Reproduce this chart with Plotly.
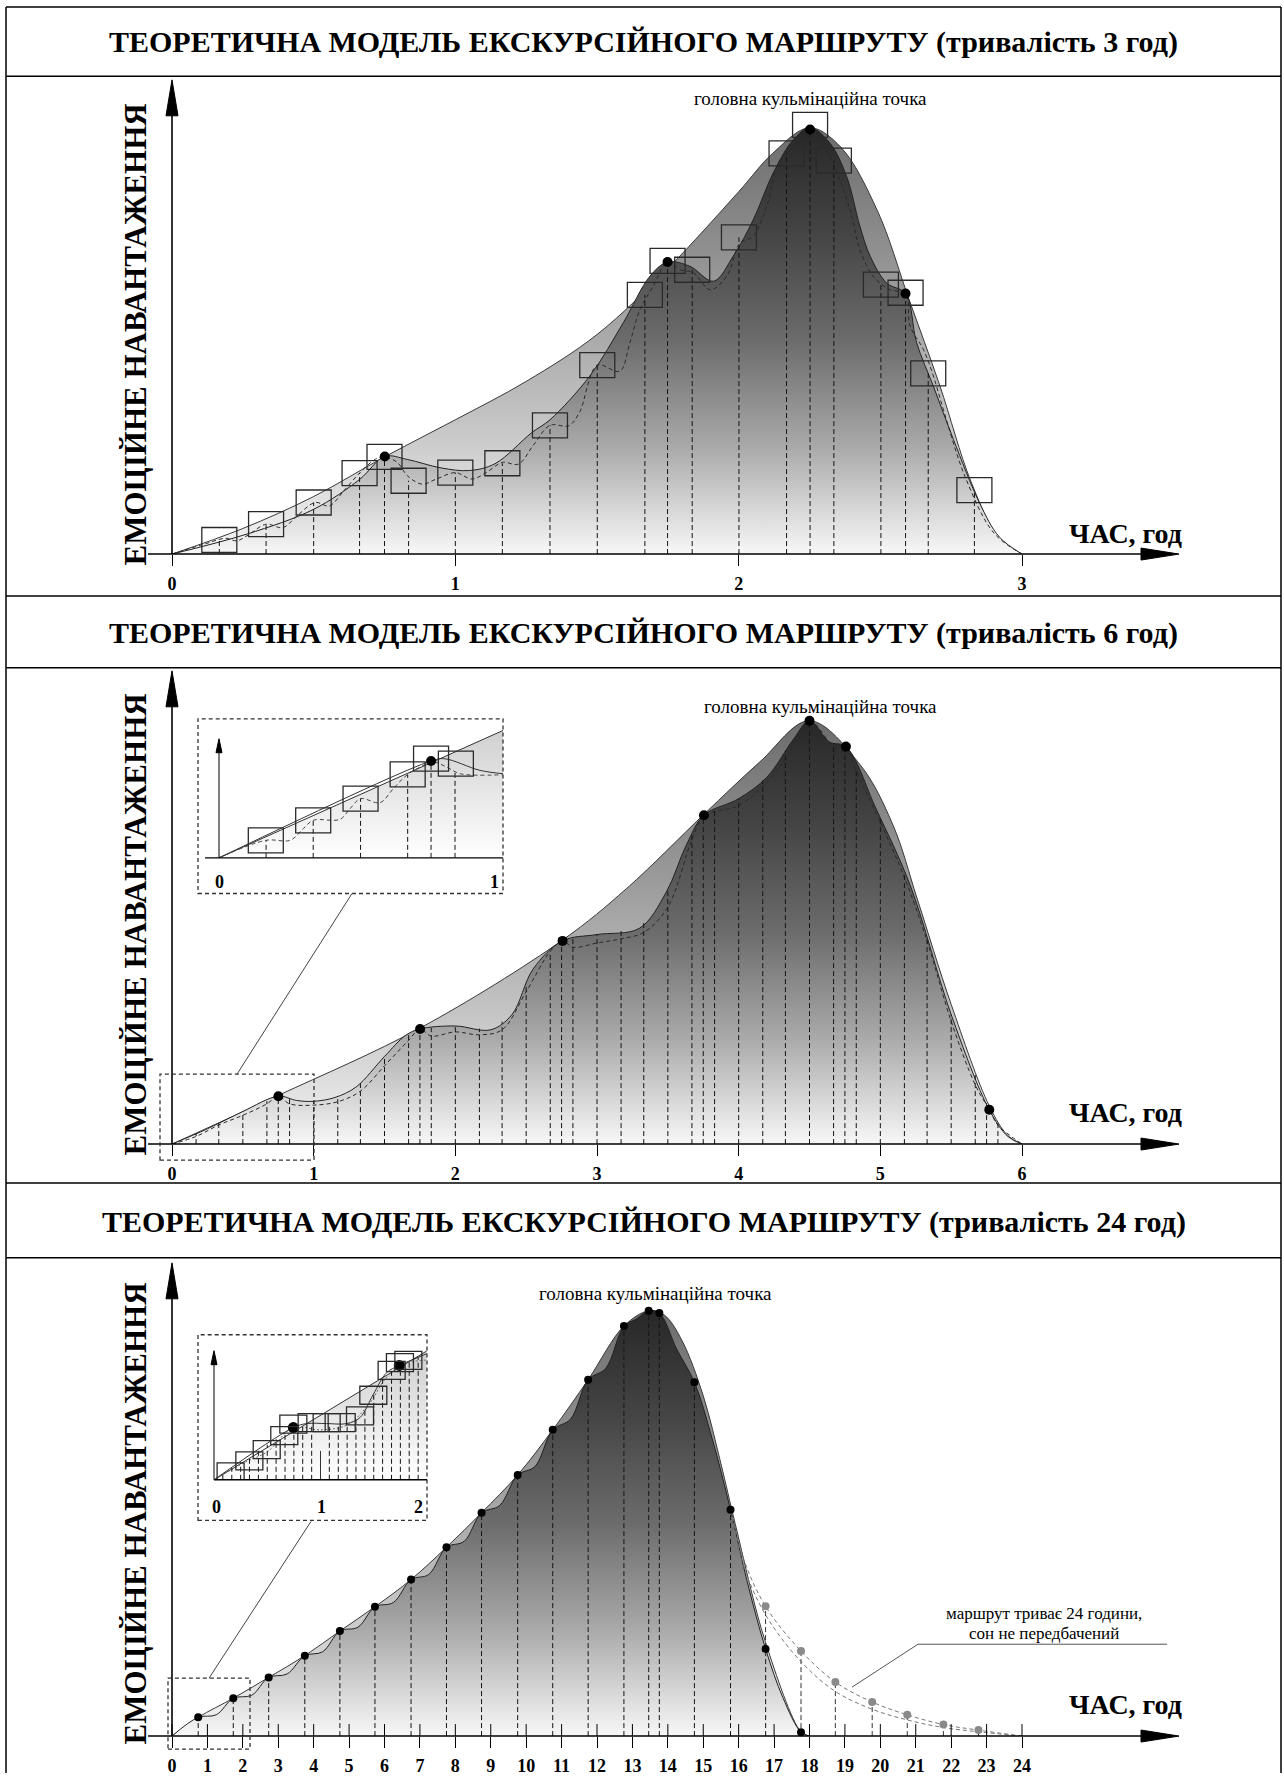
import numpy as np
import plotly.graph_objects as go

W, H = 1284, 1776
def X(px): return px / W
def Y(py): return 1 - py / H

# ---------------- DATA ----------------
# Panel 1 (3 hours)
p1_ticks = [0, 1, 2, 3]
p1_env_x = [0, 0.25, 0.5, 0.75, 1.0, 1.25, 1.5, 1.75, 2.0, 2.12, 2.25, 2.36, 2.49, 2.6, 2.71, 2.82, 2.92, 3.0]
p1_env_y = [0, 6.0, 13.5, 22.8, 31.5, 40.5, 51.5, 67.0, 85.0, 94.0, 100, 95.5, 80.5, 60.0, 39.5, 17.0, 3.5, 0]
p1_in_x = [0, 0.265, 0.5, 0.662, 0.751, 0.83, 0.95, 1.05, 1.14, 1.27, 1.334, 1.475, 1.593, 1.687, 1.749,
           1.828, 1.911, 1.981, 2.052, 2.122, 2.193, 2.252, 2.322, 2.381, 2.428, 2.464, 2.522, 2.589,
           2.628, 2.687, 2.758, 2.85, 2.92, 3.0]
p1_in_y = [0, 4.7, 10.5, 17.5, 22.9, 22.2, 20.2, 19.6, 21.2, 28.5, 31.5, 41.8, 54.3, 65.2, 68.5,
           67.5, 64.0, 69.9, 78.5, 89.4, 97.2, 100, 96.4, 88.6, 76.9, 69.9, 63.6, 61.1,
           49.6, 39.4, 26.9, 12.0, 4.0, 0]
p1_dash_x = [0, 0.108, 0.19, 0.228, 0.265, 0.332, 0.391, 0.442, 0.505, 0.555, 0.606, 0.662, 0.719, 0.75,
             0.795, 0.832, 0.883, 0.933, 1.0, 1.059, 1.109, 1.166, 1.223, 1.274, 1.334, 1.40, 1.438,
             1.501, 1.58, 1.616, 1.652, 1.698, 1.749, 1.793, 1.84, 1.9, 1.958, 2.005, 2.05, 2.099, 2.146,
             2.205, 2.252, 2.287, 2.322, 2.393, 2.428, 2.475, 2.534, 2.589, 2.605, 2.652, 2.687, 2.722,
             2.8, 2.9, 3.0]
p1_dash_y = [0, 2.2, 3.7, 3.1, 4.3, 7.0, 6.2, 9.0, 12.1, 11.3, 14.8, 19.0, 22.3, 22.8,
             21.5, 18.3, 16.4, 17.6, 19.1, 17.6, 19.1, 21.5, 21.1, 25.4, 30.2, 30.1, 33.2,
             44.3, 42.9, 49.6, 57.4, 62.8, 68.5, 66.7, 66.0, 62.0, 65.2, 73.0, 74.5, 81.6, 92.5,
             95.6, 100, 96.4, 93.3, 80.8, 71.4, 65.2, 62.0, 61.1, 53.5, 48.0, 41.8, 34.0,
             18.0, 5.0, 0]
p1_sq_x = [0.167, 0.332, 0.5, 0.662, 0.75, 0.835, 1.0, 1.166, 1.334, 1.501, 1.669, 1.749, 1.836, 2.001,
           2.169, 2.252, 2.336, 2.502, 2.589, 2.669, 2.832]
p1_sq_y = [3.3, 7.0, 12.1, 19.0, 22.8, 17.2, 19.1, 21.3, 30.2, 44.3, 60.8, 68.8, 66.7, 74.3,
           94.0, 100.7, 92.3, 63.2, 61.3, 42.4, 15.0]
p1_dot_x = [0.751, 1.749, 2.252, 2.589]
p1_dot_y = [22.9, 68.5, 99.6, 61.1]

# Panel 2 (6 hours)
p2_ticks = [0, 1, 2, 3, 4, 5, 6]
p2_env_x = [0, 0.751, 1.751, 2.757, 3.21, 3.755, 4.15, 4.5, 4.86, 5.09, 5.26, 5.5, 5.769, 5.9, 6.0]
p2_env_y = [0, 11.5, 27.4, 48.2, 60.4, 77.9, 90.3, 100, 89.5, 75.3, 58, 33, 9, 2, 0]
p2_in_x = [0, 0.25, 0.5, 0.751, 0.88, 1.0, 1.15, 1.3, 1.5, 1.65, 1.751, 2.0, 2.25, 2.4, 2.55, 2.757, 3.0,
           3.3, 3.49, 3.63, 3.755, 4.0, 4.2, 4.39, 4.5, 4.64, 4.757, 4.97, 5.21, 5.5, 5.769, 5.9, 6.0]
p2_in_y = [0, 3.6, 7.7, 11.3, 10.3, 10.1, 11.0, 13.5, 20.7, 25.7, 27.2, 27.9, 27.0, 30.6, 41.4, 48.0, 49.5,
           51.0, 59.6, 70.6, 77.7, 81.6, 86.7, 95.8, 100, 95.0, 93.9, 79.2, 61.2, 30.6, 8.1, 1.8, 0]
p2_dash_x = [0, 0.17, 0.33, 0.5, 0.67, 0.751, 0.83, 1.0, 1.17, 1.33, 1.5, 1.67, 1.751, 1.83, 2.0, 2.17,
             2.33, 2.5, 2.67, 2.757, 2.83, 3.0, 3.17, 3.33, 3.5, 3.67, 3.755, 3.83, 4.0, 4.17, 4.33, 4.5,
             4.67, 4.757, 4.83, 5.0, 5.17, 5.33, 5.5, 5.67, 5.769, 5.83, 6.0]
p2_dash_y = [0, 1.8, 4.5, 6.8, 9.5, 11.3, 9.5, 9.2, 10.0, 12.5, 18.5, 24.5, 27.2, 25.5, 26.5, 25.8,
             27.0, 36.0, 45.5, 48.0, 46.5, 47.5, 48.5, 50.0, 56.0, 72.0, 77.7, 78.5, 80.0, 84.5, 91.0, 100,
             94.0, 93.9, 88.0, 76.0, 63.0, 48.0, 29.0, 14.0, 8.1, 4.5, 0]
p2_guides = [0.17, 0.33, 0.5, 0.67, 0.75, 0.83, 1.0, 1.17, 1.33, 1.5, 1.67, 1.75, 1.83, 2.0,
             2.17, 2.33, 2.5, 2.67, 2.75, 2.83, 3.0, 3.17, 3.33, 3.5, 3.67, 3.75, 3.83, 4.0,
             4.17, 4.33, 4.5, 4.67, 4.75, 4.83, 5.0, 5.17, 5.33, 5.5, 5.67, 5.75, 5.83]
p2_dot_x = [0.751, 1.751, 2.757, 3.755, 4.5, 4.757, 5.769]
p2_dot_y = [11.3, 27.2, 48.0, 77.7, 100, 93.9, 8.1]

# Panel 3 (24 hours)
p3_ticks = list(range(25))
p3_env_x = [0, 0.74, 1.73, 2.73, 3.75, 4.74, 5.73, 6.75, 7.75, 8.74, 9.76, 10.75, 11.75, 12.76, 13.46,
            13.9, 14.4, 15.0, 15.5, 15.9, 16.76, 17.76, 18.0]
p3_env_y = [0, 4.4, 8.9, 13.8, 18.9, 24.7, 30.4, 36.8, 44.4, 52.5, 61.4, 72.0, 83.8, 96.4, 100,
            99.0, 93.0, 80.0, 64.0, 50.0, 22.0, 1.0, 0]
p3_in_x = [0, 0.74, 1.25, 1.73, 2.25, 2.73, 3.25, 3.75, 4.25, 4.74, 5.25, 5.73, 6.25, 6.75, 7.25, 7.75,
           8.25, 8.74, 9.25, 9.76, 10.25, 10.75, 11.25, 11.75, 12.25, 12.76, 13.1, 13.46, 13.76, 14.25,
           14.75, 15.25, 15.77, 16.25, 16.76, 17.25, 17.76, 18.0]
p3_in_y = [0, 4.4, 5.0, 8.9, 9.6, 13.8, 14.6, 18.9, 19.8, 24.7, 25.6, 30.4, 31.4, 36.8, 38.0, 44.4,
           45.8, 52.5, 54.2, 61.4, 63.4, 72.0, 74.5, 83.8, 86.5, 96.4, 98.0, 100, 99.5, 91.0,
           83.2, 70.0, 53.2, 36.0, 20.5, 9.0, 0.9, 0]
p3_dot_x = [0.74, 1.73, 2.73, 3.75, 4.74, 5.73, 6.75, 7.75, 8.74, 9.76, 10.75, 11.75, 12.76, 13.46,
            13.76, 14.75, 15.77, 16.76, 17.76]
p3_dot_y = [4.4, 8.9, 13.8, 18.9, 24.7, 30.4, 36.8, 44.4, 52.5, 61.4, 72.0, 83.8, 96.4, 100,
            99.5, 83.2, 53.2, 20.5, 0.9]
p3_alt_x = [15.77, 16.14, 16.76, 17.76, 18.73, 19.77, 20.76, 21.78, 22.77, 24.0]
p3_alt_y = [53.2, 41.6, 30.5, 20.0, 12.7, 8.0, 5.0, 2.7, 1.4, 0]
p3_alt2_y = [53.2, 40.0, 28.5, 17.5, 10.5, 6.3, 3.8, 2.0, 1.0, 0]
p3_gdot_x = [16.76, 17.76, 18.73, 19.77, 20.76, 21.78, 22.77]
p3_gdot_y = [30.5, 20.0, 12.7, 8.0, 5.0, 2.7, 1.4]

# Inset of panel 2 (first hour)
i2_env_x = [0, 1.007]
i2_env_y = [0, 127.6]
i2_in_x = [0, 0.752, 0.799, 0.926, 1.007]
i2_in_y = [0, 97.0, 99.3, 87.6, 84.3]
i2_dash_x = [0, 0.167, 0.252, 0.299, 0.334, 0.429, 0.465, 0.502, 0.571, 0.618, 0.669, 0.736, 0.752,
             0.807, 0.855, 1.007]
i2_dash_y = [0, 17.6, 17.6, 29.3, 37.6, 38.6, 49.3, 59.3, 55.3, 69.3, 83.6, 94.3, 97.0, 91.0, 84.3, 83.3]
i2_sq_x = [0.166, 0.334, 0.502, 0.669, 0.752, 0.84]
i2_sq_y = [17.6, 37.6, 59.3, 83.6, 99.3, 94.3]
i2_guides = [0.167, 0.334, 0.502, 0.669, 0.752, 0.837]
i2_dot_x = [0.752]
i2_dot_y = [97.0]

# Inset of panel 3 (first two hours)
i3_env_x = [0, 1.997]
i3_env_y = [0, 129.0]
i3_in_x = [0, 0.745, 0.87, 1.058, 1.246, 1.371, 1.496, 1.621, 1.74, 1.871, 1.997]
i3_in_y = [0, 52.3, 56.3, 56.3, 56.3, 62.3, 85.6, 107.3, 114.6, 120.6, 126.3]
i3_dash_x = [0, 0.3, 0.5, 0.745, 1.0, 1.25, 1.45, 1.6, 1.74, 2.0]
i3_dash_y = [0, 18.0, 28.0, 52.3, 50.0, 55.0, 75.0, 100.0, 114.6, 120.0]
i3_sq_x = [0.156, 0.332, 0.495, 0.66, 0.745, 0.917, 1.058, 1.199, 1.371, 1.496, 1.668, 1.746, 1.825]
i3_sq_y = [8.0, 19.0, 30.3, 44.3, 55.7, 57.3, 57.3, 57.3, 64.0, 84.7, 109.7, 117.3, 119.7]
i3_guides = [0.083, 0.167, 0.25, 0.333, 0.417, 0.5, 0.583, 0.667, 0.75, 0.833, 0.917, 1.083, 1.167,
             1.25, 1.333, 1.417, 1.5, 1.583, 1.667, 1.75, 1.833, 1.917]
i3_dot_x = [0.745, 1.74]
i3_dot_y = [52.3, 114.6]

TITLES = ["ТЕОРЕТИЧНА МОДЕЛЬ ЕКСКУРСІЙНОГО МАРШРУТУ (тривалість 3 год)",
          "ТЕОРЕТИЧНА МОДЕЛЬ ЕКСКУРСІЙНОГО МАРШРУТУ (тривалість 6 год)",
          "ТЕОРЕТИЧНА МОДЕЛЬ ЕКСКУРСІЙНОГО МАРШРУТУ (тривалість 24 год)"]
YLABEL = "ЕМОЦІЙНЕ НАВАНТАЖЕННЯ"
XLABEL = "ЧАС, год"
PEAK_LABEL = "головна кульмінаційна точка"
NOTE_1 = "маршрут триває 24 години,"
NOTE_2 = "сон не передбачений"

# ---------------- STYLE ----------------
SERIF = "Liberation Serif"
ENV_CS = [[0, '#f6f6f6'], [0.3, '#c6c6c6'], [0.6, '#9e9e9e'], [1, '#6c6c6c']]
IN_CS = [[0, '#f8f8f8'], [0.25, '#aaaaaa'], [0.5, '#6c6c6c'], [0.75, '#454545'], [1, '#272727']]
INSET_CS = [[0, '#ffffff'], [1, '#cfcfcf']]

fig = go.Figure()
shapes = []
annotations = []

def spline(x, y, ax, color, width=1, dash=None, fill=None, cs=None, stop=100):
    kw = dict(x=x, y=y, mode='lines', xaxis=ax[0], yaxis=ax[1], hoverinfo='skip', showlegend=False,
              line=dict(color=color, width=width, shape='spline', smoothing=1.0, dash=dash))
    if fill:
        kw['fill'] = 'tozeroy'
        kw['fillgradient'] = dict(type='vertical', colorscale=cs, start=0, stop=stop)
    fig.add_trace(go.Scatter(**kw))

def guides(xs, tops, ax, color='#151515', dash='5px,3px', width=1):
    gx, gy = [], []
    for xv, tv in zip(xs, tops):
        gx += [xv, xv, None]
        gy += [0, tv, None]
    fig.add_trace(go.Scatter(x=gx, y=gy, mode='lines', xaxis=ax[0], yaxis=ax[1], hoverinfo='skip',
                             showlegend=False, line=dict(color=color, width=width, dash=dash)))

def dots(xs, ys, ax, size=10, color='black'):
    fig.add_trace(go.Scatter(x=xs, y=ys, mode='markers', xaxis=ax[0], yaxis=ax[1], hoverinfo='skip',
                             showlegend=False, cliponaxis=False,
                             marker=dict(color=color, size=size, line=dict(width=0))))

def rects(xs, ys, axref, w, h, color='#2a2a2a'):
    for xv, yv in zip(xs, ys):
        shapes.append(dict(type='rect', xref=axref[0], yref=axref[1], xsizemode='pixel', ysizemode='pixel',
                           xanchor=xv, yanchor=yv, x0=-w / 2, x1=w / 2, y0=-h / 2, y1=h / 2,
                           line=dict(color=color, width=1.3), fillcolor='rgba(0,0,0,0)', layer='above'))

def pline(x0, y0, x1, y1, color='black', width=1, dash=None):
    shapes.append(dict(type='line', xref='paper', yref='paper', x0=X(x0), y0=Y(y0), x1=X(x1), y1=Y(y1),
                       line=dict(color=color, width=width, dash=dash), layer='above'))

def ppath(pts, color='black'):
    d = "M " + " L ".join(f"{X(a):.5f},{Y(b):.5f}" for a, b in pts) + " Z"
    shapes.append(dict(type='path', xref='paper', yref='paper', path=d, fillcolor=color,
                       line=dict(color=color, width=1), layer='above'))

def text(px, py, s, size, bold=False, angle=0, xanchor='center'):
    annotations.append(dict(x=X(px), y=Y(py), xref='paper', yref='paper', text=f"<b>{s}</b>" if bold else s,
                            showarrow=False, textangle=angle, xanchor=xanchor, yanchor='middle',
                            font=dict(family=SERIF, size=size, color='black')))

# ---------------- PANELS ----------------
panels = [
    dict(ax=('x', 'y'), base=555, unit=850 / 3, k=4.27, ytop=95, ticks=p1_ticks, tip=80, title_y=42,
         ylab_y=335, xlab_y=534),
    dict(ax=('x2', 'y2'), base=1146, unit=850 / 6, k=4.24, ytop=685, ticks=p2_ticks, tip=672, title_y=634,
         ylab_y=926, xlab_y=1114),
    dict(ax=('x3', 'y3'), base=1739, unit=850 / 24, k=4.26, ytop=1275, ticks=p3_ticks, tip=1265, title_y=1224,
         ylab_y=1516, xlab_y=1707),
]

layout_axes = {}
for i, p in enumerate(panels):
    n = '' if i == 0 else str(i + 1)
    xl, xr = 148, 1182
    layout_axes['xaxis' + n] = dict(domain=[X(xl), X(xr)], range=[(xl - 172) / p['unit'], (xr - 172) / p['unit']],
                                    anchor='y' + n, showgrid=False, zeroline=False, showline=False,
                                    tickmode='array', tickvals=p['ticks'], ticktext=[str(t) for t in p['ticks']],
                                    ticks='outside', ticklen=11, tickwidth=1, tickcolor='black',
                                    ticklabelstandoff=2,
                                    tickfont=dict(family=SERIF, size=18, color='black', weight='bold'),
                                    fixedrange=True)
    layout_axes['yaxis' + n] = dict(domain=[Y(p['base']), Y(p['ytop'])],
                                    range=[0, (p['base'] - p['ytop']) / p['k']], anchor='x' + n,
                                    visible=False, fixedrange=True)
    b = p['base']
    pline(148, b, 1150, b, width=1.6)
    ppath([(1179, b), (1141, b - 6), (1141, b + 6)])
    pline(172, b, 172, p['tip'] + 30, width=1.6)
    ppath([(172, p['tip']), (166, p['tip'] + 36), (178, p['tip'] + 36)])
    text(644, p['title_y'], TITLES[i], 30, bold=True)
    text(135, p['ylab_y'], YLABEL, 31, bold=True, angle=-90)
    text(1125, p['xlab_y'], XLABEL, 28, bold=True)

# Panel 1 traces
A1 = ('x', 'y')
spline(p1_env_x, p1_env_y, A1, '#3a3a3a', fill=True, cs=ENV_CS)
spline(p1_in_x, p1_in_y, A1, '#222222', fill=True, cs=IN_CS)
spline(p1_dash_x, p1_dash_y, A1, '#2a2a2a', dash='4px,3px')
guides(p1_sq_x, p1_sq_y, A1)
rects(p1_sq_x, p1_sq_y, A1, 35, 25)
dots(p1_dot_x, p1_dot_y, A1, size=10)

# Panel 2 traces
A2 = ('x2', 'y2')
spline(p2_env_x, p2_env_y, A2, '#3a3a3a', fill=True, cs=ENV_CS)
spline(p2_in_x, p2_in_y, A2, '#222222', fill=True, cs=IN_CS)
spline(p2_dash_x, p2_dash_y, A2, '#2a2a2a', dash='4px,3px')
guides(p2_guides, list(np.interp(p2_guides, p2_in_x, p2_in_y)), A2)
dots(p2_dot_x, p2_dot_y, A2, size=10)

# Panel 3 traces
A3 = ('x3', 'y3')
spline(p3_env_x, p3_env_y, A3, '#3a3a3a', fill=True, cs=ENV_CS)
spline(p3_in_x, p3_in_y, A3, '#222222', fill=True, cs=IN_CS)
spline(p3_alt_x, p3_alt_y, A3, '#777777', dash='4px,3px')
spline(p3_alt_x, p3_alt2_y, A3, '#777777', dash='4px,3px')
guides(p3_dot_x, p3_dot_y, A3)
guides(p3_gdot_x, p3_gdot_y, A3, color='#333333')
tick_up = 12 / panels[2]['k']
guides(p3_ticks, [tick_up] * len(p3_ticks), A3, color='black', dash='solid')
dots(p3_dot_x, p3_dot_y, A3, size=8)
dots(p3_gdot_x, p3_gdot_y, A3, size=8, color='#8a8a8a')

# Insets axes
layout_axes['xaxis4'] = dict(domain=[X(205), X(503)], range=[(205 - 219) / 282, (503 - 219) / 282], anchor='y4',
                             visible=False, fixedrange=True)
layout_axes['yaxis4'] = dict(domain=[Y(859.3), Y(722)], range=[0, 137.3], anchor='x4', visible=False,
                             fixedrange=True)
layout_axes['xaxis5'] = dict(domain=[X(214), X(427)], range=[0, 2], anchor='y5', visible=False, fixedrange=True)
layout_axes['yaxis5'] = dict(domain=[Y(1482.3), Y(1345)], range=[0, 137.3], anchor='x5', visible=False,
                             fixedrange=True)

A4 = ('x4', 'y4')
spline(i2_env_x, i2_env_y, A4, '#333333', fill=True, cs=INSET_CS, stop=130)
spline(i2_in_x, i2_in_y, A4, '#333333')
spline(i2_dash_x, i2_dash_y, A4, '#444444', dash='4px,3px')
guides(i2_guides, list(np.interp(i2_guides, i2_dash_x, i2_dash_y)), A4)
rects(i2_sq_x, i2_sq_y, A4, 35, 25)
dots(i2_dot_x, i2_dot_y, A4, size=10)

A5 = ('x5', 'y5')
spline(i3_env_x, i3_env_y, A5, '#333333', fill=True, cs=INSET_CS, stop=130)
spline(i3_in_x, i3_in_y, A5, '#333333')
spline(i3_dash_x, i3_dash_y, A5, '#666666', dash='2px,2px')
guides(i3_guides, list(np.interp(i3_guides, i3_in_x, i3_in_y)), A5)
guides([1], [29], A5, color='#333333', dash='solid')
rects(i3_sq_x, i3_sq_y, A5, 27, 18)
dots(i3_dot_x, i3_dot_y, A5, size=11)

# inset frames, mini axes, labels, leaders
shapes.append(dict(type='rect', xref='paper', yref='paper', x0=X(198), x1=X(503), y0=Y(895), y1=Y(720),
                   line=dict(color='#333333', width=1.3, dash='4px,3px'), layer='above'))
pline(205, 859.3, 503, 859.3, width=1.4)
pline(219, 859.3, 219, 752, width=1)
ppath([(219, 740), (216, 754), (222, 754)])
text(219, 883, "0", 18, bold=True)
text(494, 883, "1", 18, bold=True)
shapes.append(dict(type='rect', xref='paper', yref='paper', x0=X(160), x1=X(314), y0=Y(1162), y1=Y(1076),
                   line=dict(color='#333333', width=1.3, dash='4px,3px'), layer='above'))
pline(352, 895, 237, 1076, color='#444444')

shapes.append(dict(type='rect', xref='paper', yref='paper', x0=X(198), x1=X(427), y0=Y(1523), y1=Y(1337),
                   line=dict(color='#333333', width=1.3, dash='4px,3px'), layer='above'))
pline(214, 1482.3, 427, 1482.3, width=1.4)
pline(214, 1482.3, 214, 1365, width=1)
ppath([(214, 1353), (211, 1367), (217, 1367)])
text(216, 1510, "0", 18, bold=True)
text(321, 1510, "1", 18, bold=True)
text(418, 1510, "2", 18, bold=True)
shapes.append(dict(type='rect', xref='paper', yref='paper', x0=X(168), x1=X(250), y0=Y(1752), y1=Y(1681),
                   line=dict(color='#333333', width=1.3, dash='4px,3px'), layer='above'))
pline(311, 1524, 209, 1681, color='#444444')

# peak labels
text(810, 99, PEAK_LABEL, 19)
text(820, 708, PEAK_LABEL, 19)
text(655, 1296, PEAK_LABEL, 19)

# note in panel 3
text(1044, 1616, NOTE_1, 17)
text(1044, 1636, NOTE_2, 17)
pline(918, 1647, 1167, 1647, color='#555555')
pline(918, 1647, 852, 1690, color='#555555')

# frame and separators
pline(6, 7, 1281, 7, width=1.5)
pline(6, 7, 6, 1776, width=1.5)
pline(1281, 7, 1281, 1776, width=1.5)
for sy in [76.5, 597, 669, 1185, 1260]:
    pline(6, sy, 1281, sy, width=1.5)

fig.update_layout(width=W, height=H, margin=dict(l=0, r=0, t=0, b=0), paper_bgcolor='white',
                  plot_bgcolor='rgba(0,0,0,0)', showlegend=False, shapes=shapes, annotations=annotations,
                  **layout_axes)
fig.write_html("out.html", config={'displayModeBar': False},
               post_script="document.body.style.margin='0px';")
